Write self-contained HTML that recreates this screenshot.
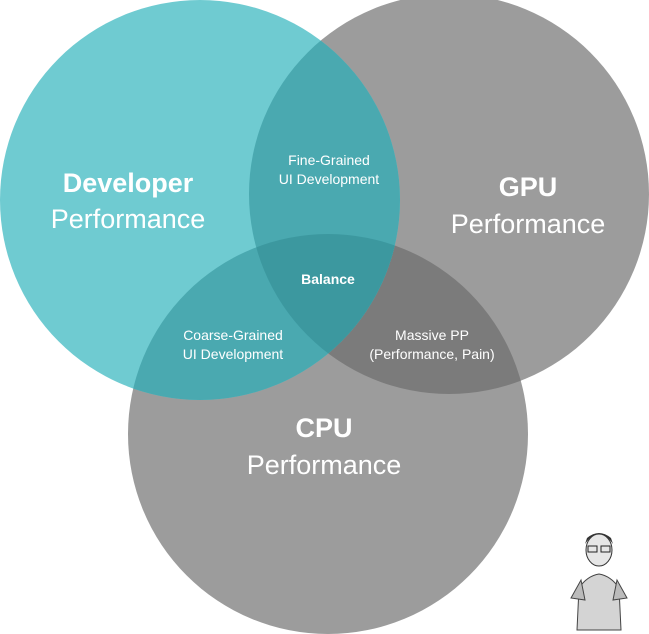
<!DOCTYPE html>
<html><head><style>body{margin:0;background:#fff}svg{display:block}text{font-family:"Liberation Sans",Arial,sans-serif;fill:#fff;text-anchor:middle}</style></head><body>
<svg width="649" height="634" viewBox="0 0 649 634">
<defs>
<clipPath id="t"><circle cx="200" cy="200" r="200"/></clipPath>
<clipPath id="g"><circle cx="449" cy="194" r="200"/></clipPath>
<clipPath id="c"><circle cx="328" cy="434" r="200"/></clipPath>
</defs>
<circle cx="449" cy="194" r="200" fill="#9c9c9c"/>
<circle cx="328" cy="434" r="200" fill="#9c9c9c"/>
<circle cx="449" cy="194" r="200" fill="#7b7b7b" clip-path="url(#c)"/>
<circle cx="200" cy="200" r="200" fill="#6fcbd1"/>
<circle cx="449" cy="194" r="200" fill="#4aa9b0" clip-path="url(#t)"/>
<circle cx="328" cy="434" r="200" fill="#4aa9b0" clip-path="url(#t)"/>
<g clip-path="url(#t)"><circle cx="449" cy="194" r="200" fill="#3c989f" clip-path="url(#c)"/></g>
<text x="128" y="192" font-size="27" font-weight="bold">Developer</text>
<text x="128" y="228" font-size="27">Performance</text>
<text x="528" y="196" font-size="27" font-weight="bold">GPU</text>
<text x="528" y="233" font-size="27">Performance</text>
<text x="324" y="437" font-size="27" font-weight="bold">CPU</text>
<text x="324" y="474" font-size="27">Performance</text>
<text x="329" y="165" font-size="14">Fine-Grained</text>
<text x="329" y="184" font-size="14">UI Development</text>
<text x="328" y="284" font-size="14" font-weight="bold">Balance</text>
<text x="233" y="340" font-size="14">Coarse-Grained</text>
<text x="233" y="359" font-size="14">UI Development</text>
<text x="432" y="340" font-size="14">Massive PP</text>
<text x="432" y="359" font-size="14">(Performance, Pain)</text>
<g transform="translate(567,518)">
<path d="M10 112 L12 70 Q20 58 32 56 Q44 58 52 70 L54 112 Z" fill="#d4d4d4" stroke="#444"/>
<path d="M4 80 L14 62 L18 82 Z M60 80 L50 62 L46 82 Z" fill="#bbb" stroke="#444"/>
<ellipse cx="32" cy="32" rx="13" ry="16" fill="#e6e6e6" stroke="#333"/>
<path d="M18 26 Q32 6 46 26 L44 20 Q32 10 20 20 Z" fill="#333"/>
<rect x="21" y="28" width="9" height="6" fill="none" stroke="#222"/>
<rect x="34" y="28" width="9" height="6" fill="none" stroke="#222"/>
</g>
</svg>
</body></html>
